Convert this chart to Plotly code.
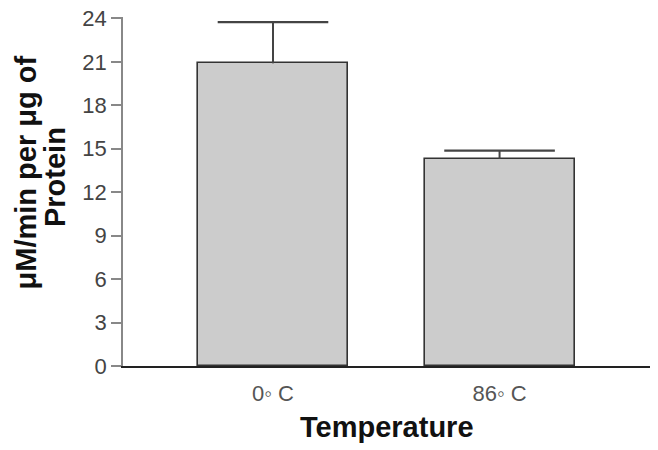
import plotly.graph_objects as go

categories = ["0◦ C", "86◦ C"]
values = [20.9, 14.3]
err_plus = [2.85, 0.57]
y_ticks = [0, 3, 6, 9, 12, 15, 18, 21, 24]

xpos = list(range(len(categories)))
tops = [v + e for v, e in zip(values, err_plus)]
FONT = "Liberation Sans, Arial, sans-serif"

fig = go.Figure()
fig.add_trace(go.Bar(
    x=xpos, y=values, width=0.662,
    marker=dict(color="#cccccc", line=dict(color="#333333", width=1.6)),
    showlegend=False, hoverinfo="skip",
))
# error bar stems (upper only)
stem_x, stem_y = [], []
for i, v, t in zip(xpos, values, tops):
    stem_x += [i, i, None]
    stem_y += [v, t, None]
fig.add_trace(go.Scatter(
    x=stem_x, y=stem_y, mode="lines",
    line=dict(color="#444444", width=2),
    showlegend=False, hoverinfo="skip",
))
# caps
fig.add_trace(go.Scatter(
    x=xpos, y=tops, mode="markers",
    marker=dict(symbol="line-ew", size=79, line=dict(color="#444444", width=2.2)),
    showlegend=False, hoverinfo="skip",
))

fig.update_layout(
    width=658, height=450,
    margin=dict(l=123, r=8, t=17, b=84),
    paper_bgcolor="white", plot_bgcolor="white",
    font=dict(family=FONT),
    bargap=0,
)
fig.update_xaxes(
    range=[-0.662, 1.664], tickvals=xpos, ticktext=categories,
    showline=True, linecolor="#222222", linewidth=1.6,
    ticks="outside", ticklen=7, tickcolor="rgba(0,0,0,0)",
    tickfont=dict(size=22, color="#555555", family=FONT),
    showgrid=False, zeroline=False, automargin=False,
)
fig.update_yaxes(
    range=[0, 24.1], tickvals=y_ticks, ticktext=[str(t) for t in y_ticks],
    showline=True, linecolor="#888888", linewidth=1.6,
    ticks="outside", ticklen=10, tickcolor="#888888", tickwidth=1.6,
    tickfont=dict(size=22, color="#444444", family=FONT),
    showgrid=False, zeroline=False, automargin=False,
)

fig.add_annotation(text="μM/min per μg of", xref="paper", yref="paper",
                   x=-0.185, y=0.553, xanchor="center", yanchor="middle",
                   textangle=-90, showarrow=False,
                   font=dict(size=29, color="#111111", family=FONT, weight="bold"))
fig.add_annotation(text="Protein", xref="paper", yref="paper",
                   x=-0.129, y=0.5415, xanchor="center", yanchor="middle",
                   textangle=-90, showarrow=False,
                   font=dict(size=29, color="#111111", family=FONT, weight="bold"))
fig.add_annotation(text="Temperature", xref="paper", yref="paper",
                   x=0.5, y=-0.175, xanchor="center", yanchor="middle",
                   showarrow=False,
                   font=dict(size=29, color="#111111", family=FONT, weight="bold"))

fig.write_html("out.html", config={"displayModeBar": False},
               post_script="document.body.style.margin='0';document.body.style.padding='0';")
